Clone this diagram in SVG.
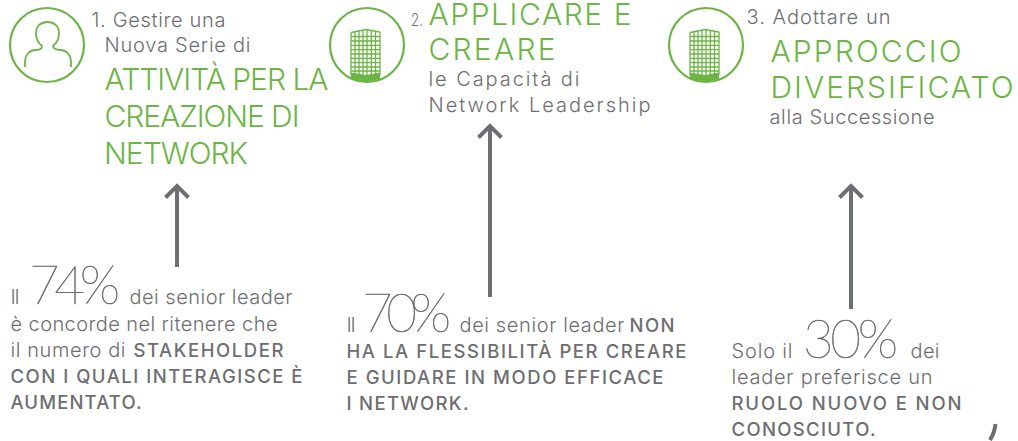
<svg xmlns="http://www.w3.org/2000/svg" width="1018" height="441" viewBox="0 0 1018 441">
<style>
text{font-family:Inter,"Open Sans","Liberation Sans",sans-serif;white-space:pre}
.g{fill:#6d6e71;font-weight:300;font-size:20px}
.gn{fill:#6cb545;font-weight:300;font-size:30px}
.b{fill:#6d6e71;font-weight:500;font-size:18.500px}
.n{fill:#6d6e71;stroke:#6d6e71;stroke-width:.6px;font-family:Lato,Inter,sans-serif;font-weight:200;font-size:53px}
.ring{fill:none;stroke:#6cb545;stroke-width:2.200}
.ar{fill:none;stroke:#6d6e71;stroke-width:4}
</style>
<defs>
<g id="bldg">
<path d="M351 32.500L366 29.500L380 32M351 36.500H380M351 41H380M351 45.300H380M351 49.600H380M351 54H380M351 58.300H380M351 62.600H380M351 67H380M351 71H380M351 32.500V75M355 32V75M359 31V75M363 30.500V75M367 29.500V76M371.300 30.500V75M375.500 31V75M380 32V75" fill="none" stroke="#6cb545" stroke-width="1.300"/>
<path d="M351 72.500L366 75L380 72.500V79Q366 83.500 351 79Z" fill="#6cb545"/>
</g>
</defs>

<g id="connectors">
<path class="ar" d="M177 267V186M165.500 197.500L177 186L188.500 197.500"/>
<path class="ar" d="M490 297V126M478.500 137.500L490 126L501.500 137.500"/>
<path class="ar" d="M851 309V186M839.500 197.500L851 186L862.500 197.500"/>
</g>

<g id="node-1">
<circle class="ring" cx="47" cy="45" r="37"/>
<path d="M25 67V63C25 54 30 50 36 50C40 50 42 48 42 46C38 43 36 38 36 33C36 26 41 22 47.500 22C54 22 59 26 59 33C59 38 57 43 53 46C53 48 56 50 60 50C66 50 71 54 71 63V67" fill="none" stroke="#6cb545" stroke-width="1.800"/>
<text class="g" x="91.500" y="27" textLength="134">1. Gestire una</text>
<text class="g" x="104.500" y="52" textLength="146">Nuova Serie di</text>
<text class="gn" x="104.500" y="90" textLength="224">ATTIVITÀ PER LA</text>
<text class="gn" x="104.500" y="127" textLength="195">CREAZIONE DI</text>
<text class="gn" x="104" y="164" textLength="144">NETWORK</text>
</g>

<g id="node-2">
<circle class="ring" cx="367" cy="45" r="37"/>
<use href="#bldg"/>
<text class="g" x="411" y="26" style="font-size:17px" textLength="12" lengthAdjust="spacingAndGlyphs">2.</text>
<text class="gn" x="428.500" y="25" textLength="203">APPLICARE E</text>
<text class="gn" x="428.500" y="60" textLength="127">CREARE</text>
<text class="g" x="428.500" y="86" textLength="151">le Capacità di</text>
<text class="g" x="428.500" y="112" textLength="222">Network Leadership</text>
</g>

<g id="node-3">
<circle class="ring" cx="706" cy="45" r="37"/>
<use href="#bldg" x="339"/>
<text class="g" x="746.500" y="24" textLength="144">3. Adottare un</text>
<text class="gn" x="770.500" y="62" textLength="191">APPROCCIO</text>
<text class="gn" x="770.500" y="98" textLength="243">DIVERSIFICATO</text>
<text class="g" x="769.500" y="124" textLength="165">alla Successione</text>
</g>

<g id="stat-1">
<text class="g" x="10.500" y="304" textLength="9">Il</text>
<text class="n" x="29" y="304" textLength="91">74%</text>
<text class="g" x="129.500" y="304" textLength="163">dei senior leader</text>
<text class="g" x="10.500" y="331" textLength="267">è concorde nel ritenere che</text>
<text class="g" x="10.500" y="357" textLength="115">il numero di</text>
<text class="b" x="133.500" y="357" textLength="150">STAKEHOLDER</text>
<text class="b" x="10.500" y="383" textLength="292">CON I QUALI INTERAGISCE È</text>
<text class="b" x="10.500" y="409" textLength="131">AUMENTATO.</text>
</g>

<g id="stat-2">
<text class="g" x="346.500" y="332" textLength="9">Il</text>
<text class="n" x="362" y="332" textLength="89">70%</text>
<text class="g" x="459.500" y="332" textLength="165">dei senior leader</text>
<text class="b" x="629.500" y="332" textLength="45">NON</text>
<text class="b" x="346.500" y="358" textLength="340">HA LA FLESSIBILITÀ PER CREARE</text>
<text class="b" x="346.500" y="384" textLength="317">E GUIDARE IN MODO EFFICACE</text>
<text class="b" x="346.500" y="410" textLength="122">I NETWORK.</text>
</g>

<g id="stat-3">
<text class="g" x="731.500" y="358" textLength="61">Solo il</text>
<text class="n" x="803" y="358" textLength="95">30%</text>
<text class="g" x="910.500" y="358" textLength="29">dei</text>
<text class="g" x="731.500" y="384" textLength="201">leader preferisce un</text>
<text class="b" x="731.500" y="410" textLength="230">RUOLO NUOVO E NON</text>
<text class="b" x="731.500" y="436" textLength="144">CONOSCIUTO.</text>
<path d="M995.500 424Q994.500 433 990 440" fill="none" stroke="#6d6e71" stroke-width="4"/>
</g>
</svg>
